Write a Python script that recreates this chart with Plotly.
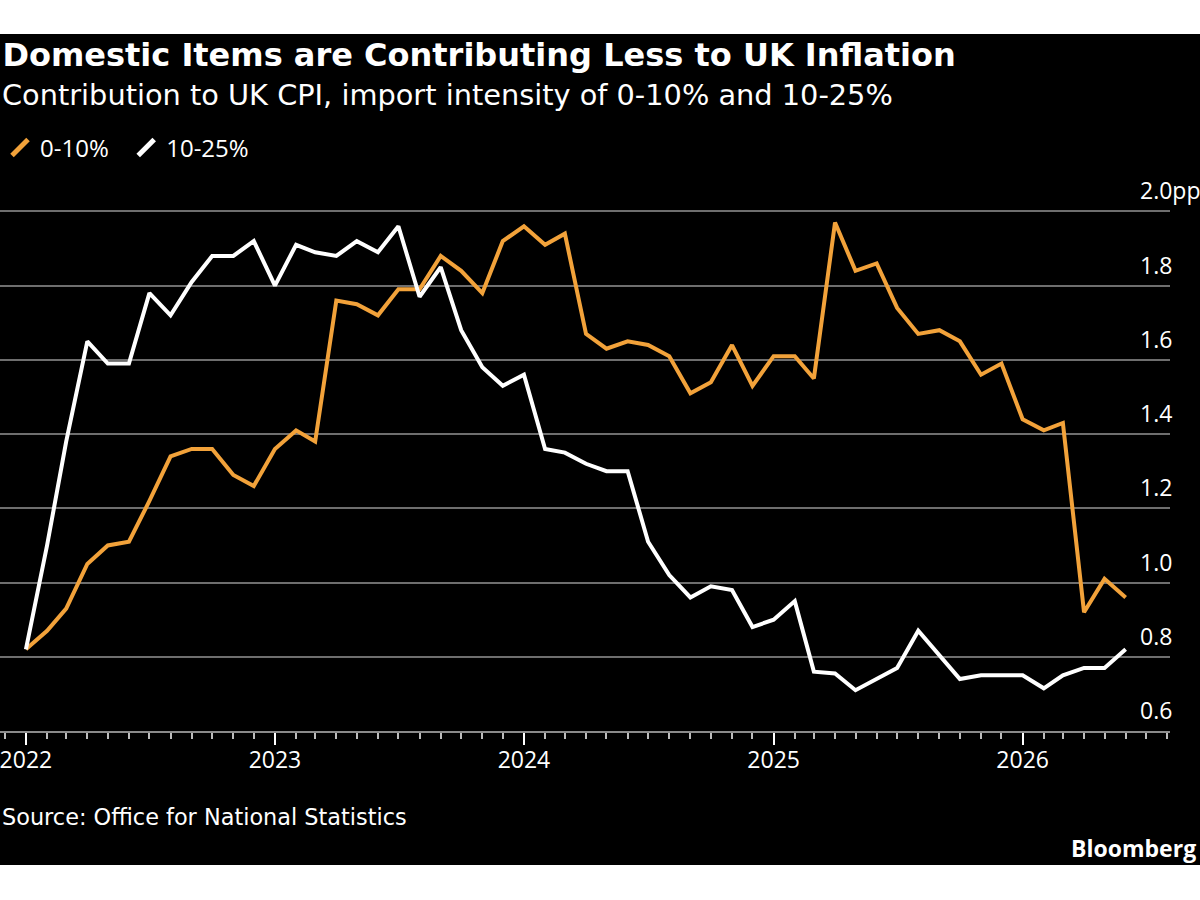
import pandas as pd
import plotly.graph_objects as go

# ---- data ----
dates = pd.date_range("2022-01-01", periods=54, freq="MS")
low_import = [0.82, 0.87, 0.93, 1.05, 1.10, 1.11, 1.22, 1.34, 1.36, 1.36, 1.29, 1.26,
              1.36, 1.41, 1.38, 1.76, 1.75, 1.72, 1.79, 1.79, 1.88, 1.84, 1.78, 1.92,
              1.96, 1.91, 1.94, 1.67, 1.63, 1.65, 1.64, 1.61, 1.51, 1.54, 1.64, 1.53,
              1.61, 1.61, 1.55, 1.97, 1.84, 1.86, 1.74, 1.67, 1.68, 1.65, 1.56, 1.59,
              1.44, 1.41, 1.43, 0.92, 1.01, 0.96]
mid_import = [0.82, 1.10, 1.38, 1.65, 1.59, 1.59, 1.78, 1.72, 1.81, 1.88, 1.88, 1.92,
              1.80, 1.91, 1.89, 1.88, 1.92, 1.89, 1.96, 1.77, 1.85, 1.68, 1.58, 1.53,
              1.56, 1.36, 1.35, 1.32, 1.30, 1.30, 1.11, 1.02, 0.96, 0.99, 0.98, 0.88,
              0.90, 0.95, 0.76, 0.755, 0.71, 0.74, 0.77, 0.87, 0.805, 0.74, 0.75, 0.75,
              0.75, 0.715, 0.75, 0.77, 0.77, 0.82]
series_names = ["0-10%", "10-25%"]
y_tickvals = [0.6, 0.8, 1.0, 1.2, 1.4, 1.6, 1.8, 2.0]
y_ticktext = ["0.6", "0.8", "1.0", "1.2", "1.4", "1.6", "1.8", "2.0pp"]

ORANGE = "#F2A23A"
WHITE = "#FFFFFF"
FONT = "Open Sans"
WIDE = "DejaVu Sans"
NBSP = "\u00a0"

# plot-area geometry (pixels)
W, H = 1200, 900
L, R, T, B = 0, 30, 204, 169
PW, PH = W - L - R, H - T - B


def px_x(px):
    return (px - L) / PW


def px_y(py):
    return (H - B - py) / PH


fig = go.Figure()
for name, vals, col in [(series_names[0], low_import, ORANGE),
                        (series_names[1], mid_import, WHITE)]:
    fig.add_trace(go.Scatter(x=dates, y=vals, mode="lines", name=name,
                             line=dict(color=col, width=4),
                             showlegend=False, hoverinfo="x+y"))
# legend entries (slanted swatches)
for name, col, pad in [(series_names[0], ORANGE, NBSP * 2),
                       (series_names[1], WHITE, "")]:
    fig.add_trace(go.Scatter(x=[None], y=[None], mode="markers", name=name + pad,
                             marker=dict(symbol="line-ne", size=21, color=col,
                                         line=dict(color=col, width=5))))

fig.update_layout(
    width=W, height=H,
    margin=dict(l=L, r=R, t=T, b=B, pad=0),
    paper_bgcolor="#000000",
    plot_bgcolor="rgba(0,0,0,0)",
    font=dict(family=FONT, color="#FFFFFF", size=22),
    title=dict(text="<b>Domestic Items are Contributing Less to UK Inflation</b>",
               x=0.002, xref="container", xanchor="left",
               y=1 - 55 / H, yref="container", yanchor="middle",
               font=dict(family=WIDE, size=32, color="#FFFFFF")),
    showlegend=True,
    legend=dict(orientation="h", x=-0.02, xanchor="left",
                y=1 - 148 / H, yref="container", yanchor="middle",
                font=dict(size=24, color="#FFFFFF"),
                bgcolor="rgba(0,0,0,0)", itemwidth=30, traceorder="normal"),
    xaxis=dict(type="date", range=["2021-11-24", "2026-08-05"],
               tick0="2022-01-01", dtick="M12", tickformat="%Y",
               ticks="outside", ticklen=12, tickwidth=2, tickcolor="#FFFFFF",
               showline=True, linecolor="#8a8a8a", linewidth=2,
               showgrid=False, zeroline=False, ticklabeloverflow="allow",
               ticklabelstandoff=-5,
               tickfont=dict(size=23, color="#FFFFFF"),
               minor=dict(dtick="M1", tick0="2022-01-01", ticks="outside",
                          ticklen=6, tickwidth=1.5, tickcolor="#bbbbbb",
                          showgrid=False)),
    yaxis=dict(range=[0.6, 2.02], side="right",
               tickvals=y_tickvals, ticktext=y_ticktext,
               ticks="", showline=False, zeroline=False,
               showgrid=True, gridcolor="#6e6e6e", gridwidth=1.5,
               ticklabelposition="outside", ticklabelstandoff=-31,
               ticklabelshift=-20, ticklabeloverflow="allow",
               tickfont=dict(size=23, color="#FFFFFF")),
    shapes=[
        dict(type="rect", xref="paper", yref="paper",
             x0=px_x(0), x1=px_x(W), y0=px_y(0), y1=px_y(34),
             fillcolor="#FFFFFF", line=dict(width=0), layer="below"),
        dict(type="rect", xref="paper", yref="paper",
             x0=px_x(0), x1=px_x(W), y0=px_y(865), y1=px_y(H),
             fillcolor="#FFFFFF", line=dict(width=0), layer="below"),
    ],
    annotations=[
        dict(text="Contribution to UK CPI, import intensity of 0-10% and 10-25%",
             xref="paper", yref="paper", x=px_x(0), y=px_y(95),
             xanchor="left", yanchor="middle", showarrow=False,
             font=dict(family=WIDE, size=28.8, color="#FFFFFF")),
        dict(text="Source: Office for National Statistics",
             xref="paper", yref="paper", x=px_x(0), y=px_y(817),
             xanchor="left", yanchor="middle", showarrow=False,
             font=dict(family=WIDE, size=22.4, color="#FFFFFF")),
        dict(text="<b>Bloomberg</b>",
             xref="paper", yref="paper", x=px_x(1198), y=px_y(848),
             xanchor="right", yanchor="middle", showarrow=False,
             font=dict(family=FONT, size=23, color="#FFFFFF")),
    ],
)

fig.write_html("out.html")
